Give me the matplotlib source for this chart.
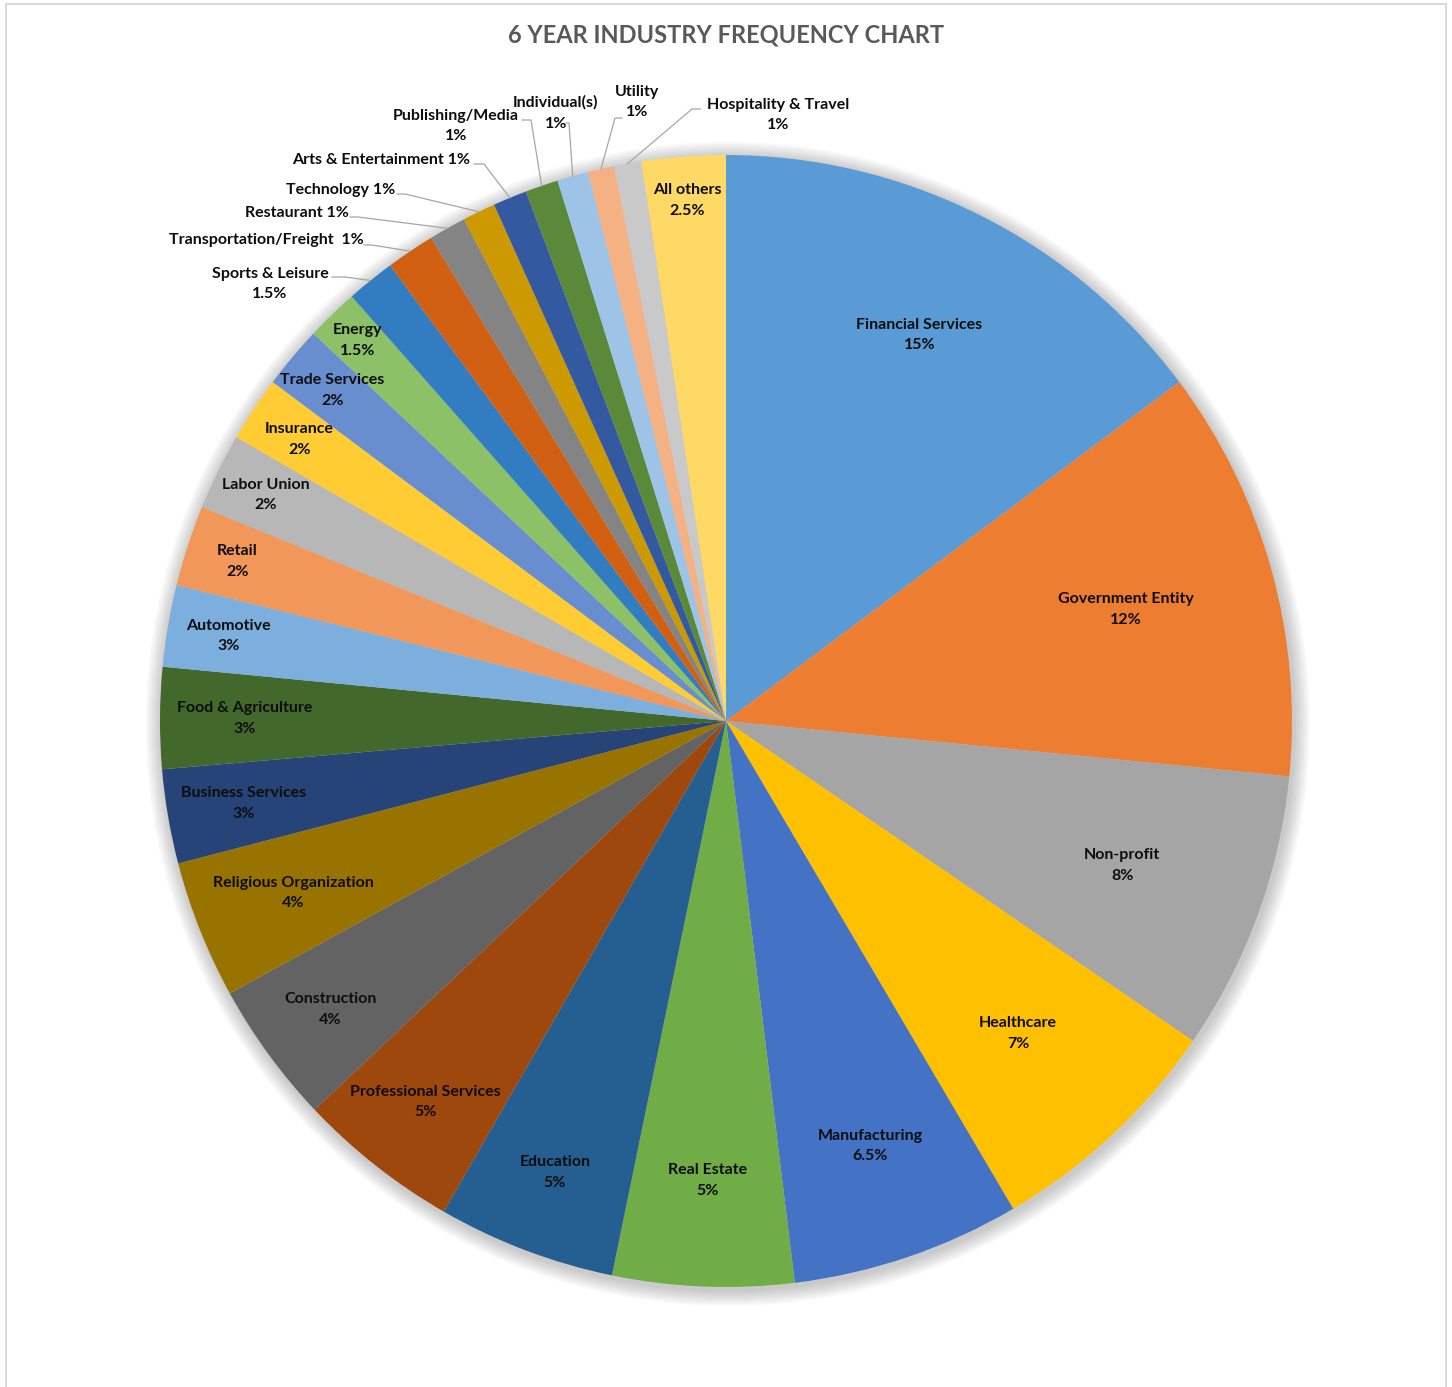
import numpy as np
import matplotlib.pyplot as plt
from matplotlib.patches import Circle, Rectangle

# data (clockwise from 12 o'clock)
industries = ["Financial Services", "Government Entity", "Non-profit", "Healthcare",
              "Manufacturing", "Real Estate", "Education", "Professional Services",
              "Construction", "Religious Organization", "Business Services",
              "Food & Agriculture", "Automotive", "Retail", "Labor Union", "Insurance",
              "Trade Services", "Energy", "Sports & Leisure", "Transportation/Freight",
              "Restaurant", "Technology", "Arts & Entertainment", "Publishing/Media",
              "Individual(s)", "Utility", "Hospitality & Travel", "All others"]
# slice sizes as measured from the wedge angles (%)
slice_share = [14.78, 11.78, 8.0, 6.97, 6.53, 5.17, 5.08, 4.64, 4.06, 3.94, 2.69,
               2.89, 2.33, 2.31, 2.19, 1.86, 1.78, 1.5, 1.39, 1.39, 1.06, 0.94,
               0.97, 0.94, 0.89, 0.75, 0.78, 2.39]
# percentages as printed on the labels
label_pct = ["15%", "12%", "8%", "7%", "6.5%", "5%", "5%", "5%", "4%", "4%", "3%",
             "3%", "3%", "2%", "2%", "2%", "2%", "1.5%", "1.5%", "1%", "1%", "1%",
             "1%", "1%", "1%", "1%", "1%", "2.5%"]
colors = ["#5B9BD5", "#ED7D31", "#A5A5A5", "#FFC000", "#4472C4", "#70AD47",
          "#255E91", "#9E480E", "#636363", "#997300", "#264478", "#43682B",
          "#7CAFDD", "#F1975A", "#B7B7B7", "#FFCD33", "#698ED0", "#8CC168",
          "#327DC2", "#D26012", "#848484", "#CC9A00", "#335AA1", "#5A8A39",
          "#9DC3E6", "#F4B183", "#C9C9C9", "#FFD966"]

W, H = 1452, 1387
CX, CY, R = 726, 721, 566

def px(x, y):
    # pixel position -> data units (pie radius = 1)
    return (x - CX) / R, (CY - y) / R

# radial position of the labels that sit inside their slice
inside_r = {0: 0.763, 1: 0.733, 2: 0.745, 3: 0.756, 4: 0.793, 5: 0.812, 6: 0.853,
            7: 0.857, 8: 0.865, 9: 0.823, 10: 0.864, 11: 0.851, 12: 0.892,
            13: 0.908, 14: 0.906, 15: 0.903, 16: 0.908, 17: 0.936, 27: 0.922}

# outside labels: (two lines?, text centre px, leader start px, stub end px)
outside = {
    18: (True, (270, 284), (332, 277), (345, 277)),
    19: (False, (266, 240), (364, 245), (372, 245)),
    20: (False, (297, 213), (350, 217), (358, 217)),
    21: (False, (341, 190), (397, 194), (405, 194)),
    22: (False, (381, 160), (474, 164), (484, 164)),
    23: (True, (456, 126), (522, 120), (531, 120)),
    24: (True, (556, 113), (566, 123), (569, 123)),
    25: (True, (637, 102), (622, 118), (615, 118)),
    26: (True, (778, 115), (700, 109), (692, 109)),
}

plt.rcParams['font.family'] = ['Lato', 'DejaVu Sans']
fig = plt.figure(figsize=(W / 100, H / 100), dpi=100)
ax = fig.add_axes([0, 0, 1, 1])

# soft shadow around the pie
for k in range(7, 0, -1):
    ax.add_patch(Circle((0.003, -0.005), 1 + 0.004 * k, color="#000000",
                        alpha=0.03, lw=0, zorder=0))

wedges, _ = ax.pie(slice_share, colors=colors, startangle=90, counterclock=False,
                   radius=1, center=(0, 0), wedgeprops=dict(linewidth=0, zorder=1))

font = dict(fontsize=11.5, fontweight='bold', color='#0D0D0D')
for i, w in enumerate(wedges):
    mid = np.deg2rad((w.theta1 + w.theta2) / 2)
    pct = label_pct[i]
    if i in inside_r:
        r = inside_r[i]
        ax.text(r * np.cos(mid), r * np.sin(mid), industries[i] + "\n" + pct,
                ha='center', va='center', linespacing=1.6, zorder=5, **font)
    else:
        two, tc, ls, st = outside[i]
        txt = industries[i] + ("\n" if two else (" " if i != 19 else "  ")) + pct
        ax.text(*px(*tc), txt, ha='center', va='center', linespacing=1.6,
                zorder=5, **font)
        ex, ey = 1.0 * np.cos(mid), 1.0 * np.sin(mid)
        p0, p1 = px(*ls), px(*st)
        ax.plot([p0[0], p1[0], ex], [p0[1], p1[1], ey], color="#A6A6A6",
                lw=0.9, zorder=4)

ax.set_xlim(-CX / R, (W - CX) / R)
ax.set_ylim(-(H - CY) / R, CY / R)
ax.set_aspect('equal')
ax.axis('off')

# chart border
bx0, by0 = px(6, H + 5)
bx1, by1 = px(1446, 4)
ax.add_patch(Rectangle((bx0, by0), bx1 - bx0, by1 - by0, fill=False,
                       edgecolor="#D9D9D9", lw=1.5, zorder=6, clip_on=False))

fig.text(726 / W, 1 - 35 / H, "6 YEAR INDUSTRY FREQUENCY CHART", ha='center',
         va='center', fontsize=17, fontweight='bold', color='#595959')

fig.savefig("out.png", dpi=100)
